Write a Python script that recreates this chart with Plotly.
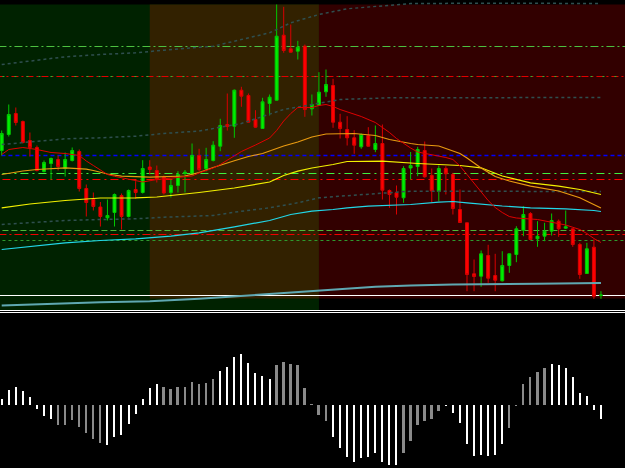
import plotly.graph_objects as go

# ---------------- data (price units) ----------------
bar_index = list(range(86))
open_ = [159,175,196,188,169,162,138,146,150,141,149,158,121,110,102.5,91.7,97,114,93,120,
         117,142.5,139,132.5,117,124,136,135,154,140.7,149,163.3,185,183.3,219.3,214,190,181,206,209.3,
         274.3,260.7,258.3,263.3,200.7,204.3,217.7,224,187.3,180,171.7,162.7,174,160,166,119,116.7,111.7,141.5,143,
         159,134,118,141,135,100,86.7,35.7,33.3,54,34,28.7,44,55,79.3,96,70.7,73.3,78.3,88.3,
         81.3,80.7,65,36,62.3,14]
high = [179,205,202,189,177,164,149,152,154,157,162,160,125,117,107.5,110,116,116,120,128.3,
        149.3,149.3,144,134,130,138.3,139.5,166,160.7,161.7,168.3,190.7,216,220,222.7,216,199.3,211.7,215,305,
        302.7,285,268.7,265,215,237.3,240,230.7,195.7,193.3,179.3,176,182.3,184,185,120,124,143.3,157.5,162.7,
        168,141,144,143.3,136.7,120,87,50,59,64.7,55.7,58.3,56,83.3,103.3,97.3,88.3,86.7,96,90,
        99,81,66.7,66.7,70,18.3]
low = [154,173,184,166,153,138,137,130,139,133,148,118,93,99,83,89,83,80,92,110.7,
       116,135,127,115,112,117,117,134,138,138,148,158.3,179,171.7,202.7,187,181.7,180.5,194,209,
       256.7,257,250,192.7,194,204,212.7,181.7,171,164,155.7,160.7,163,157.3,110,101.7,95,106.7,130,133.3,
       132,107.5,108.3,115,95,86.5,18.3,18.3,22.7,26.7,18.3,28,36.7,47.3,73.3,69.5,62.7,68.3,74,72.7,
       80.5,62.7,30.7,35.5,10.7,10.7]
close = [176,195,187,167,162,139,147,151,143,150,159,121,107,103,93,94,115,93,119,117,
         141,140,130.5,116.5,124,135,137.3,154,140,150,164.3,184,183,219.3,213.3,187.3,182.3,207.7,212.3,273.3,
         259,257.3,262.3,200,205,217.3,225,187.3,181,171.7,164.3,175,163.3,166,119.3,115,112.3,141,144,160,
         132.7,118.5,141,135.7,101,87,35,33,55.7,31.3,29.3,44,55.7,80.7,95,70,73.3,78.3,89,80.7,
         82.7,65,35,60.7,13.3,14.5]

# moving averages / envelopes, sampled at bar indices
red_ma_idx = [0,1,3,4,5,7,9,11,12,13,14,15,16,18,20,22,24,27,28,30,31,33,34,36,37,38,39,40,41,42,
              44,45,46,47,48,51,53,54,55,56,57,58,59,62,63,64,65,66,67,68,69,70,71,72,73,76,78,80,82,83,84,85]
red_ma_val = [155,160,162,161,160,157,156,154,148.5,144,139.5,135,133.2,130.5,127.5,130,131.5,133.5,136.5,141.5,
              145,153.5,158,164.5,168,171.5,179,188.5,196,202,202,204,205,203,200,193,187,182,177,171,
              166,161.5,157.5,153.5,152,150,143.5,135,126,117.5,109,102,97,93,91.5,90,87.5,84.5,80,76,71,67]
orange_ma_idx = [0,3,5,9,12,13,15,17,21,26,28,30,33,35,37,40,42,44,46,50,53,55,58,59,62,65,66,68,70,72,75,79,82,85]
orange_ma_val = [135,138.5,140,141.7,140.3,139,135.5,133.3,132.3,133.5,137,142,148.7,153,156,163.5,167.5,172.5,
                 175.5,176,174,170,166,165,163.5,156,151.5,141.5,133,128.5,123.3,118.5,111.7,101.5]
yellow_ma_idx = [0,4,9,14,19,22,28,33,38,40,42,44,47,49,54,59,65,68,71,75,79,82,85]
yellow_ma_val = [101.7,105.5,109,111.5,111.7,112.5,117,121.5,127.5,134,138.3,141.5,145,148,148.3,146,144,
                 141.7,133.5,126.7,123.3,120,115]
cyan_ma_idx = [0,5,9,14,19,24,28,33,38,41,44,47,49,52,55,58,62,64,66,71,75,80,84,85]
cyan_ma_val = [60,63.5,66.7,69,70.7,73.3,76.7,82.7,89,95,98.3,100,101.7,103.3,104,105,107.3,108,106.7,
               103.5,101.7,100.7,99,98]
slow_ma_idx = [0,7,14,21,28,39,44,48,53,58,60,64,76,85]
slow_ma_val = [4,5.7,7.3,8.3,10.7,16,18.3,20,22.7,24,24.3,25,25.7,26.5]

env_top_idx = [0,5,9,14,19,23,30,33,38,41,45,49,54,58,70,85]
env_top_val = [245,249,252.7,255,256.7,259.3,263.3,268.3,276.7,286.7,295,300.7,304,306,306.3,306]
env_mid_idx = [0,5,9,14,19,23,28,34,40,44,48,55,85]
env_mid_val = [165,168.3,170.7,171.7,173.3,176,178.5,186,200,205,210,211.7,212]
env_low_idx = [0,5,9,14,19,23,30,33,38,42,45,48,53,58,85]
env_low_val = [85,87.3,89,90,90.7,92.3,94,97.3,101.7,106.7,111.7,113.3,116,118.3,118]

# horizontal price levels
level_prices = [263, 233, 233, 154, 136, 130, 79, 75, 69, 14]

# session zones: (start bar, end bar, bottom price)
zone_green = (-5, 45, -1)
zone_brown = (21, 45, 11)
zone_red = (45, 100, 11)
zone_top = 305

# oscillator histogram
osc = [6,15,18,14,7.7,-4,-11,-14.3,-20,-20,-15,-21.7,-28.3,-33.7,-38.3,-40,-31.7,-30,-19,-9,
       6,16.7,21,17.7,15.7,18.3,18.3,23,21,22,26,34.3,38,48.3,51,42.3,31.7,29,25.7,39.7,
       43,41,39.7,16.7,0.3,-10,-15.7,-32.3,-43.3,-51.7,-56.7,-52.7,-51.7,-48.3,-56.7,-60,-60,-47.7,-36.3,-20.3,
       -15.7,-14.3,-5.7,-1,-8.3,-17.7,-39,-51,-50,-51,-50,-39,-22.7,-1,21,27.7,32.7,37,41,39.7,
       37,27.7,11.7,9.3,-5,-14.3]
osc_phase = [1]*8 + [0]*7 + [1]*8 + [0]*8 + [1]*8 + [0]*8 + [1]*10 + [0]*6 + [1]*9 + [0]*6 + [1]*8

# ---------------- figure ----------------
fig = go.Figure()

fig.add_trace(go.Candlestick(
    x=bar_index, open=open_, high=high, low=low, close=close,
    increasing=dict(line=dict(color="#00C800", width=1), fillcolor="#00F000"),
    decreasing=dict(line=dict(color="#D80000", width=1), fillcolor="#FF0000"),
    whiskerwidth=0, yaxis="y", hoverinfo="skip"))

def line(idx, val, color, width=1, dash="solid"):
    fig.add_trace(go.Scatter(x=idx, y=val, mode="lines", yaxis="y",
                             line=dict(color=color, width=width, dash=dash), hoverinfo="skip"))

line(env_top_idx, env_top_val, "#2F4F4F", 1.5, "3px,3px")
line(env_mid_idx, env_mid_val, "#2F4F4F", 1.5, "3px,3px")
line(env_low_idx, env_low_val, "#2F4F4F", 1.5, "3px,3px")
line(slow_ma_idx, slow_ma_val, "#5FA8B2", 2)
line(cyan_ma_idx, cyan_ma_val, "#22D8E8", 1.2)
line(yellow_ma_idx, yellow_ma_val, "#F2F000", 1.2)
line(orange_ma_idx, orange_ma_val, "#E89A10", 1.2)
line(red_ma_idx, red_ma_val, "#E00000", 1)

wx = [i for i, p in zip(bar_index, osc_phase) if p == 1]
wy = [v for v, p in zip(osc, osc_phase) if p == 1]
gx = [i for i, p in zip(bar_index, osc_phase) if p == 0]
gy = [v for v, p in zip(osc, osc_phase) if p == 0]
fig.add_trace(go.Bar(x=wx, y=wy, width=0.16, marker=dict(color="#FFFFFF", line=dict(width=0)),
                     yaxis="y2", hoverinfo="skip"))
fig.add_trace(go.Bar(x=gx, y=gy, width=0.28, marker=dict(color="#8A8A8A", line=dict(width=0)),
                     yaxis="y2", hoverinfo="skip"))

shapes = []
for (x0, x1, yb), col in [(zone_green, "#002200"), (zone_brown, "#322100"), (zone_red, "#320000")]:
    shapes.append(dict(type="rect", xref="x", yref="y", x0=x0, x1=x1, y0=yb, y1=zone_top,
                       fillcolor=col, line=dict(width=0), layer="below"))

level_styles = [("#4CC040", "8px,3px,2px,3px", 1),
                ("#E00000", "7px,3px,2px,3px", 1),
                ("#30B030", "2px,10px", 1),
                ("#0000FF", "4px,3px", 1.5),
                ("#40F040", "8px,4px,2px,4px", 1),
                ("#FF0000", "8px,4px,2px,4px", 1),
                ("#50B83A", "6px,3px", 1),
                ("#F00000", "8px,3px,2px,3px", 1),
                ("#2E9A2E", "3px,3px", 1),
                ("#FFFFFF", "solid", 1)]
for p, (col, dash, w) in zip(level_prices, level_styles):
    shapes.append(dict(type="line", xref="x", yref="y", x0=-5, x1=100, y0=p, y1=p,
                       line=dict(color=col, width=w, dash=dash), layer="below"))

H = 468.0
for py in (310.5, 312.5):
    shapes.append(dict(type="line", xref="paper", yref="paper", x0=0, x1=1,
                       y0=1 - py / H, y1=1 - py / H, line=dict(color="#FFFFFF", width=1)))

fig.update_layout(
    width=625, height=468, margin=dict(l=0, r=0, t=0, b=0),
    paper_bgcolor="#000000", plot_bgcolor="#000000", showlegend=False,
    boxgap=0.4, bargap=0,
    xaxis=dict(range=[-0.241, 88.41], visible=False, rangeslider=dict(visible=False), fixedrange=True),
    yaxis=dict(domain=[1 - 310 / H, 1], range=[-0.5, 309.5], visible=False, fixedrange=True),
    yaxis2=dict(domain=[0, 155 / H], range=[-63, 92], visible=False, anchor="x", fixedrange=True),
    shapes=shapes,
)

fig.write_html("out.html")
